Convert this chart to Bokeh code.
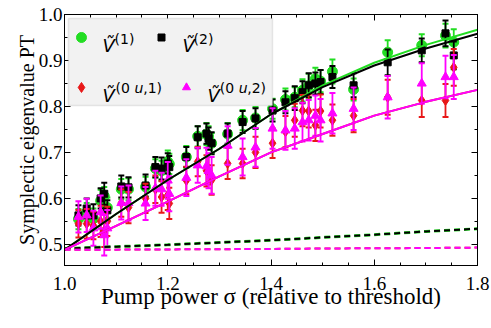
import numpy as np
from bokeh.plotting import figure
from bokeh.models import (Range1d, LinearAxis, SingleIntervalTicker, BoxAnnotation, Label,
                          NumeralTickFormatter, CustomLabelingPolicy)
from bokeh.embed import file_html
from bokeh.resources import INLINE

# ---- data ----
sigma = [1.027, 1.043, 1.056, 1.070, 1.077, 1.083, 1.110, 1.124, 1.157, 1.176, 1.188, 1.200,
         1.203, 1.236, 1.258, 1.275, 1.279, 1.285, 1.316, 1.345, 1.370, 1.403, 1.428, 1.446,
         1.461, 1.473, 1.486, 1.496, 1.519, 1.560, 1.626, 1.692, 1.738, 1.754]
v1 = [0.555, 0.570, 0.556, 0.595, 0.605, 0.580, 0.620, 0.620, 0.625, 0.665, 0.660, 0.680,
      0.675, 0.690, 0.735, 0.740, 0.735, 0.720, 0.740, 0.770, 0.775, 0.795, 0.815, 0.820,
      0.835, 0.845, 0.860, 0.855, 0.876, 0.837, 0.918, 0.933, 0.954, 0.940]
v2 = [0.563, 0.578, 0.563, 0.600, 0.610, 0.574, 0.626, 0.624, 0.628, 0.668, 0.665, 0.676,
      0.668, 0.690, 0.733, 0.741, 0.730, 0.720, 0.741, 0.766, 0.774, 0.791, 0.809, 0.818,
      0.831, 0.846, 0.850, 0.853, 0.864, 0.846, 0.896, 0.922, 0.959, 0.911]
v0u1 = [0.545, 0.545, 0.541, 0.550, 0.530, 0.550, 0.590, 0.580, 0.600, 0.620, 0.603, 0.607,
        0.589, 0.639, 0.680, 0.660, 0.660, 0.640, 0.676, 0.676, 0.700, 0.720, 0.745, 0.770,
        0.791, 0.790, 0.759, 0.790, 0.770, 0.780, 0.820, 0.813, 0.813, 0.885]
v0u2 = [0.560, 0.563, 0.535, 0.570, 0.520, 0.535, 0.590, 0.590, 0.589, 0.622, 0.620, 0.639,
        0.610, 0.645, 0.672, 0.670, 0.660, 0.650, 0.715, 0.690, 0.711, 0.752, 0.748, 0.752,
        0.766, 0.770, 0.780, 0.770, 0.785, 0.795, 0.820, 0.850, 0.864, 0.864]
e1 = [0.022, 0.020, 0.022, 0.024, 0.020, 0.022, 0.022, 0.024, 0.022, 0.020, 0.022, 0.024,
      0.022, 0.024, 0.022, 0.024, 0.022, 0.022, 0.024, 0.022, 0.024, 0.022, 0.024, 0.022,
      0.024, 0.026, 0.024, 0.024, 0.026, 0.024, 0.026, 0.024, 0.026, 0.028]
e2 = [0.022, 0.022, 0.024, 0.022, 0.024, 0.022, 0.024, 0.022, 0.024, 0.022, 0.024, 0.022,
      0.024, 0.022, 0.024, 0.022, 0.024, 0.024, 0.022, 0.024, 0.022, 0.024, 0.024, 0.026,
      0.024, 0.026, 0.024, 0.026, 0.024, 0.026, 0.028, 0.026, 0.028, 0.030]
e0u1 = [0.030, 0.032, 0.030, 0.034, 0.036, 0.032, 0.030, 0.034, 0.032, 0.030, 0.034, 0.032,
        0.034, 0.030, 0.032, 0.034, 0.030, 0.032, 0.034, 0.032, 0.034, 0.032, 0.034, 0.036,
        0.034, 0.036, 0.034, 0.036, 0.034, 0.036, 0.038, 0.036, 0.036, 0.040]
e0u2 = [0.034, 0.036, 0.038, 0.036, 0.044, 0.040, 0.036, 0.038, 0.036, 0.038, 0.036, 0.040,
        0.038, 0.040, 0.038, 0.040, 0.038, 0.040, 0.042, 0.040, 0.042, 0.044, 0.042, 0.044,
        0.042, 0.044, 0.044, 0.046, 0.044, 0.046, 0.046, 0.044, 0.046, 0.048]

fit_x = [1.0, 1.1, 1.2, 1.3, 1.4, 1.5, 1.6, 1.7, 1.8]
fit_v1 = [0.488, 0.566, 0.640, 0.708, 0.783, 0.846, 0.895, 0.934, 0.967]
fit_v2 = [0.488, 0.566, 0.640, 0.708, 0.783, 0.842, 0.889, 0.926, 0.958]
fit_v0u1 = [0.488, 0.540, 0.593, 0.648, 0.700, 0.740, 0.780, 0.810, 0.836]
fit_v0u2 = [0.488, 0.540, 0.593, 0.648, 0.700, 0.740, 0.780, 0.810, 0.836]
th_v = [0.491, 0.495, 0.499, 0.504, 0.509, 0.515, 0.521, 0.528, 0.534]
th_v0u = [0.488, 0.4885, 0.489, 0.4895, 0.490, 0.491, 0.4915, 0.492, 0.493]

x_title = "Pump power σ (relative to threshold)"
y_title = "Symplectic eigenvalue PT"

GREEN, BLACK, RED, MAGENTA = "#22dd22", "#000000", "#e81818", "#ff00ff"

p = figure(width=491, height=328, x_range=Range1d(1.0, 1.8), y_range=Range1d(0.454, 1.0),
           output_backend="svg", toolbar_location=None,
           min_border_left=64, min_border_right=14, min_border_top=14, min_border_bottom=63)
p.xgrid.visible = False
p.ygrid.visible = False
p.outline_line_color = "black"
p.background_fill_color = "white"
p.border_fill_color = "white"

p.xaxis.ticker = SingleIntervalTicker(interval=0.2, num_minor_ticks=4)
p.yaxis.ticker = SingleIntervalTicker(interval=0.1, num_minor_ticks=2)
p.xaxis.formatter = NumeralTickFormatter(format="0.0")
p.yaxis.formatter = NumeralTickFormatter(format="0.0")
p.xaxis.axis_label = x_title
p.yaxis.axis_label = y_title

def style(ax, labels=True):
    ax.major_tick_in = 6
    ax.major_tick_out = 0
    ax.minor_tick_in = 3
    ax.minor_tick_out = 0
    ax.axis_line_color = "black"
    ax.major_tick_line_color = "black"
    ax.minor_tick_line_color = "black"
    if labels:
        ax.major_label_text_font = "Liberation Serif"
        ax.major_label_text_font_size = "19px"
        ax.major_label_text_color = "black"
        ax.axis_label_text_font = "Liberation Serif"
        ax.axis_label_text_font_style = "normal"
        ax.axis_label_text_color = "black"
    else:
        ax.major_label_text_font_size = "8px"
        ax.major_label_standoff = 0
        ax.major_label_policy = CustomLabelingPolicy(
            code="for (const i of indices) { indices.unset(i) }")

for ax in p.xaxis:
    style(ax)
    ax.axis_label_text_font_size = "23px"
    ax.major_label_standoff = 11
    ax.axis_label_standoff = -9
for ax in p.yaxis:
    style(ax)
    ax.axis_label_text_font_size = "20px"
    ax.major_label_standoff = 2
    ax.axis_label_standoff = -2

top_ax = LinearAxis(ticker=SingleIntervalTicker(interval=0.2, num_minor_ticks=4))
right_ax = LinearAxis(ticker=SingleIntervalTicker(interval=0.1, num_minor_ticks=2))
style(top_ax, False)
style(right_ax, False)
p.add_layout(top_ax, "above")
p.add_layout(right_ax, "right")

# ---- data points with error bars ----
x = np.array(sigma)
series = [
    (v1, e1, GREEN, "circle", 10),
    (v2, e2, BLACK, "square", 7),
    (v0u1, e0u1, RED, "diamond", 10),
    (v0u2, e0u2, MAGENTA, "triangle", 9),
]
for vals, errs, col, mk, sz in series:
    v = np.array(vals)
    e = np.array(errs)
    p.segment(x0=x, y0=v - e, x1=x, y1=v + e, line_color=col, line_width=1.8)
    p.scatter(x=x, y=v + e, marker="dash", size=6, line_color=col, line_width=2)
    p.scatter(x=x, y=v - e, marker="dash", size=6, line_color=col, line_width=2)
    p.scatter(x=x, y=v, marker=mk, size=sz, fill_color=col, line_color=col)

# ---- theory curves ----
p.line(fit_x, th_v, line_color=GREEN, line_width=3, line_dash="6 4")
p.line(fit_x, th_v, line_color=BLACK, line_width=2, line_dash="6 4")
p.line(fit_x, th_v0u, line_color=RED, line_width=2, line_dash="6 4")
p.line(fit_x, th_v0u, line_color=MAGENTA, line_width=2, line_dash="6 4")
p.line(fit_x, fit_v1, line_color=GREEN, line_width=2)
p.line(fit_x, fit_v2, line_color=BLACK, line_width=2)
p.line(fit_x, fit_v0u1, line_color=RED, line_width=2)
p.line(fit_x, fit_v0u2, line_color=MAGENTA, line_width=2)

# ---- legend ----
p.add_layout(BoxAnnotation(left=1.0077, right=1.4029, bottom=0.8022, top=0.9913,
                           fill_color="#f2f2f2", fill_alpha=1.0,
                           line_color="#b4b4b4", line_width=1.5))
p.scatter([1.0329], [0.950], marker="circle", size=10, fill_color=GREEN, line_color=GREEN, level="overlay")
p.scatter([1.1879], [0.950], marker="square", size=7, fill_color=BLACK, line_color=BLACK, level="overlay")
p.scatter([1.0329], [0.8413], marker="diamond", size=10, fill_color=RED, line_color=RED, level="overlay")
p.scatter([1.2363], [0.8413], marker="triangle", size=8, fill_color=MAGENTA, line_color=MAGENTA, level="overlay")

def lab(xv, yv, txt, size, italic=False):
    p.add_layout(Label(x=xv, y=yv, text=txt, text_font="DejaVu Sans",
                       text_font_style="italic" if italic else "normal",
                       text_font_size=size, text_color="black",
                       text_baseline="alphabetic", text_align="left"))

V = "V\u0303"
lab(1.0736, 0.9326, V, "18px", True)
lab(1.0969, 0.9457, "(1)", "14px")
lab(1.2286, 0.9326, V, "18px", True)
lab(1.2499, 0.9457, "(2)", "14px")
lab(1.0736, 0.8239, V, "18px", True)
lab(1.0988, 0.8402, "(0", "14px")
lab(1.1356, 0.8402, "u", "14px", True)
lab(1.1524, 0.8402, ",1)", "14px")
lab(1.2770, 0.8239, V, "18px", True)
lab(1.3008, 0.8402, "(0", "14px")
lab(1.3377, 0.8402, "u", "14px", True)
lab(1.3539, 0.8402, ",2)", "14px")

open("out.html", "w").write(file_html(p, INLINE))
